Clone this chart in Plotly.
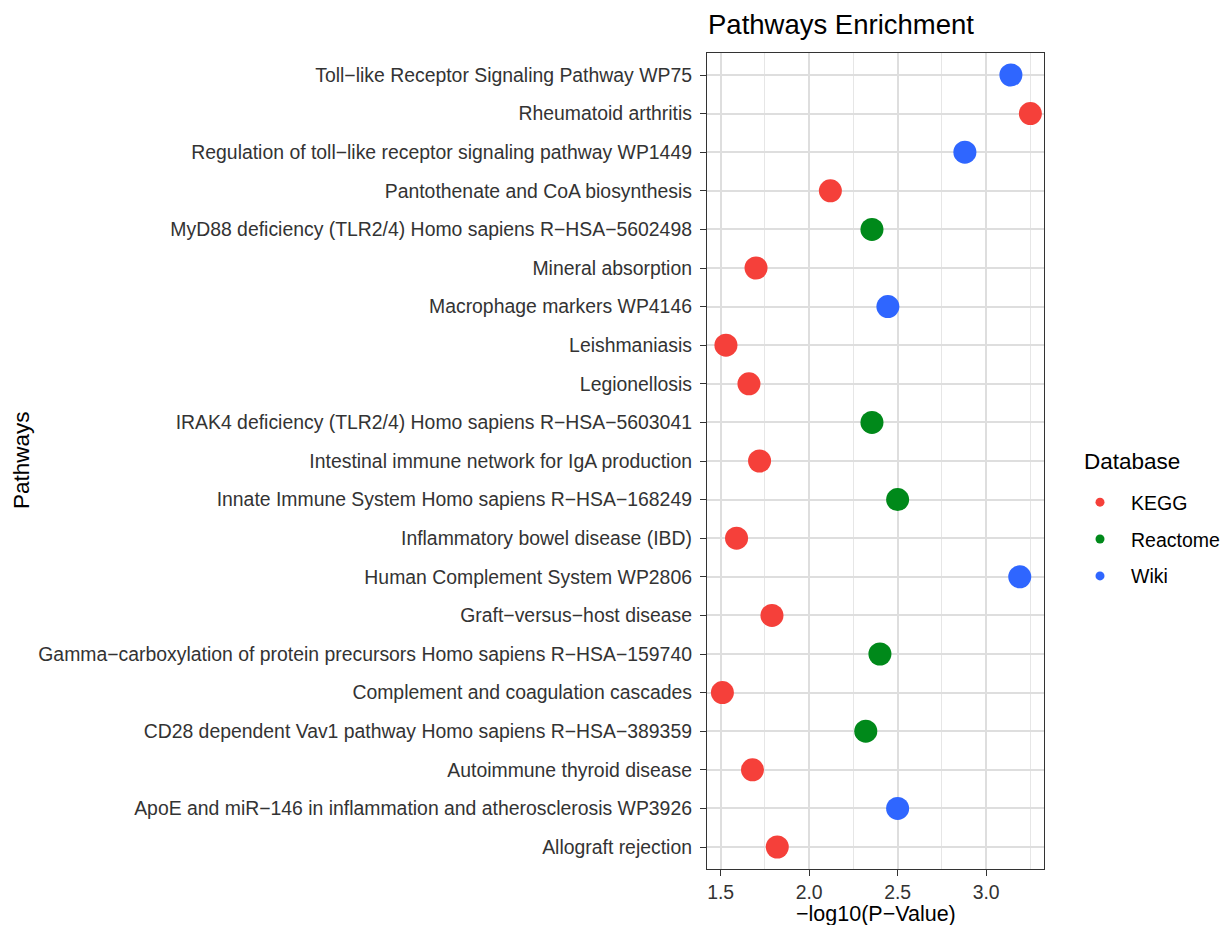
import plotly.graph_objects as go

# Pathways listed bottom-to-top as they appear on the y axis
pathways = [
    "Allograft rejection",
    "ApoE and miR−146 in inflammation and atherosclerosis WP3926",
    "Autoimmune thyroid disease",
    "CD28 dependent Vav1 pathway Homo sapiens R−HSA−389359",
    "Complement and coagulation cascades",
    "Gamma−carboxylation of protein precursors Homo sapiens R−HSA−159740",
    "Graft−versus−host disease",
    "Human Complement System WP2806",
    "Inflammatory bowel disease (IBD)",
    "Innate Immune System Homo sapiens R−HSA−168249",
    "Intestinal immune network for IgA production",
    "IRAK4 deficiency (TLR2/4) Homo sapiens R−HSA−5603041",
    "Legionellosis",
    "Leishmaniasis",
    "Macrophage markers WP4146",
    "Mineral absorption",
    "MyD88 deficiency (TLR2/4) Homo sapiens R−HSA−5602498",
    "Pantothenate and CoA biosynthesis",
    "Regulation of toll−like receptor signaling pathway WP1449",
    "Rheumatoid arthritis",
    "Toll−like Receptor Signaling Pathway WP75",
]

neg_log10_p = [
    1.82, 2.50, 1.68, 2.32, 1.51, 2.40, 1.79, 3.19, 1.59, 2.50, 1.72,
    2.355, 1.66, 1.53, 2.445, 1.70, 2.355, 2.12, 2.88, 3.25, 3.14,
]

database = [
    "KEGG", "Wiki", "KEGG", "Reactome", "KEGG", "Reactome", "KEGG", "Wiki",
    "KEGG", "Reactome", "KEGG", "Reactome", "KEGG", "KEGG", "Wiki", "KEGG",
    "Reactome", "KEGG", "Wiki", "KEGG", "Wiki",
]

db_levels = ["KEGG", "Reactome", "Wiki"]
db_colors = {"KEGG": "#F5403A", "Reactome": "#00891A", "Wiki": "#2F66FF"}

FONT = "Arial, Liberation Sans, sans-serif"
W, H = 1222, 925
L, R, T, B = 707, 1044, 53, 869


def px_x(px):
    return (px - L) / (R - L)


def px_y(py):
    return (B - py) / (B - T)


fig = go.Figure()

for db in db_levels:
    xs = [v for v, d in zip(neg_log10_p, database) if d == db]
    ys = [p for p, d in zip(pathways, database) if d == db]
    fig.add_trace(go.Scatter(
        x=xs, y=ys, mode="markers",
        marker=dict(size=23, color=db_colors[db], line=dict(width=0)),
        name=db, showlegend=False, legendgroup=db,
    ))

# Small legend keys
for db in db_levels:
    fig.add_trace(go.Scatter(
        x=[None], y=[None], mode="markers",
        marker=dict(size=9, color=db_colors[db]),
        name=db, showlegend=True, legendgroup=db,
    ))

axis_common = dict(
    showgrid=True, gridcolor="#DEDEDE", gridwidth=1.8,
    ticks="outside", ticklen=6, tickcolor="#333333", tickwidth=1.3,
    tickfont=dict(size=19.4, color="#333333"),
    showline=True, linecolor="#333333", linewidth=1.3, mirror=True,
    zeroline=False,
)

fig.update_layout(
    width=W, height=H,
    paper_bgcolor="white", plot_bgcolor="white",
    margin=dict(l=L, r=W - R, t=T, b=H - B, autoexpand=False),
    font=dict(family=FONT, color="#1a1a1a"),
    title=dict(
        text="Pathways Enrichment",
        font=dict(size=27.5, color="black", family=FONT),
        x=(L + 1) / W, xanchor="left", xref="container",
        y=1 - 24 / H, yanchor="middle", yref="container",
    ),
    xaxis=dict(
        range=[1.423, 3.327], tick0=1.5, dtick=0.5, tickformat=".1f",
        minor=dict(dtick=0.25, showgrid=True, gridcolor="#E6E6E6", gridwidth=1),
        **axis_common,
    ),
    yaxis=dict(
        type="category", categoryorder="array", categoryarray=pathways,
        range=[-0.57, len(pathways) - 1 + 0.57],
        ticklabelstandoff=4,
        **axis_common,
    ),
    legend=dict(
        font=dict(size=19.5, color="black"),
        x=1069 / W, xanchor="left", xref="container",
        y=1 - 483 / H, yanchor="top", yref="container",
        tracegroupgap=8.5, itemsizing="trace", itemwidth=52,
        bgcolor="rgba(0,0,0,0)",
    ),
    annotations=[
        dict(
            text="−log10(P−Value)", showarrow=False,
            font=dict(size=21.5, color="black"),
            xref="paper", yref="paper",
            x=0.5, y=px_y(914),
            xanchor="center", yanchor="middle",
        ),
        dict(
            text="Pathways", textangle=-90, showarrow=False,
            font=dict(size=22.5, color="black"),
            xref="paper", yref="paper",
            x=px_x(21), y=px_y(460),
            xanchor="center", yanchor="middle",
        ),
        dict(
            text="Database", showarrow=False,
            font=dict(size=22.5, color="black"),
            xref="paper", yref="paper",
            x=px_x(1082), y=px_y(461),
            xanchor="left", yanchor="middle",
        ),
    ],
)

fig.write_html("out.html")
